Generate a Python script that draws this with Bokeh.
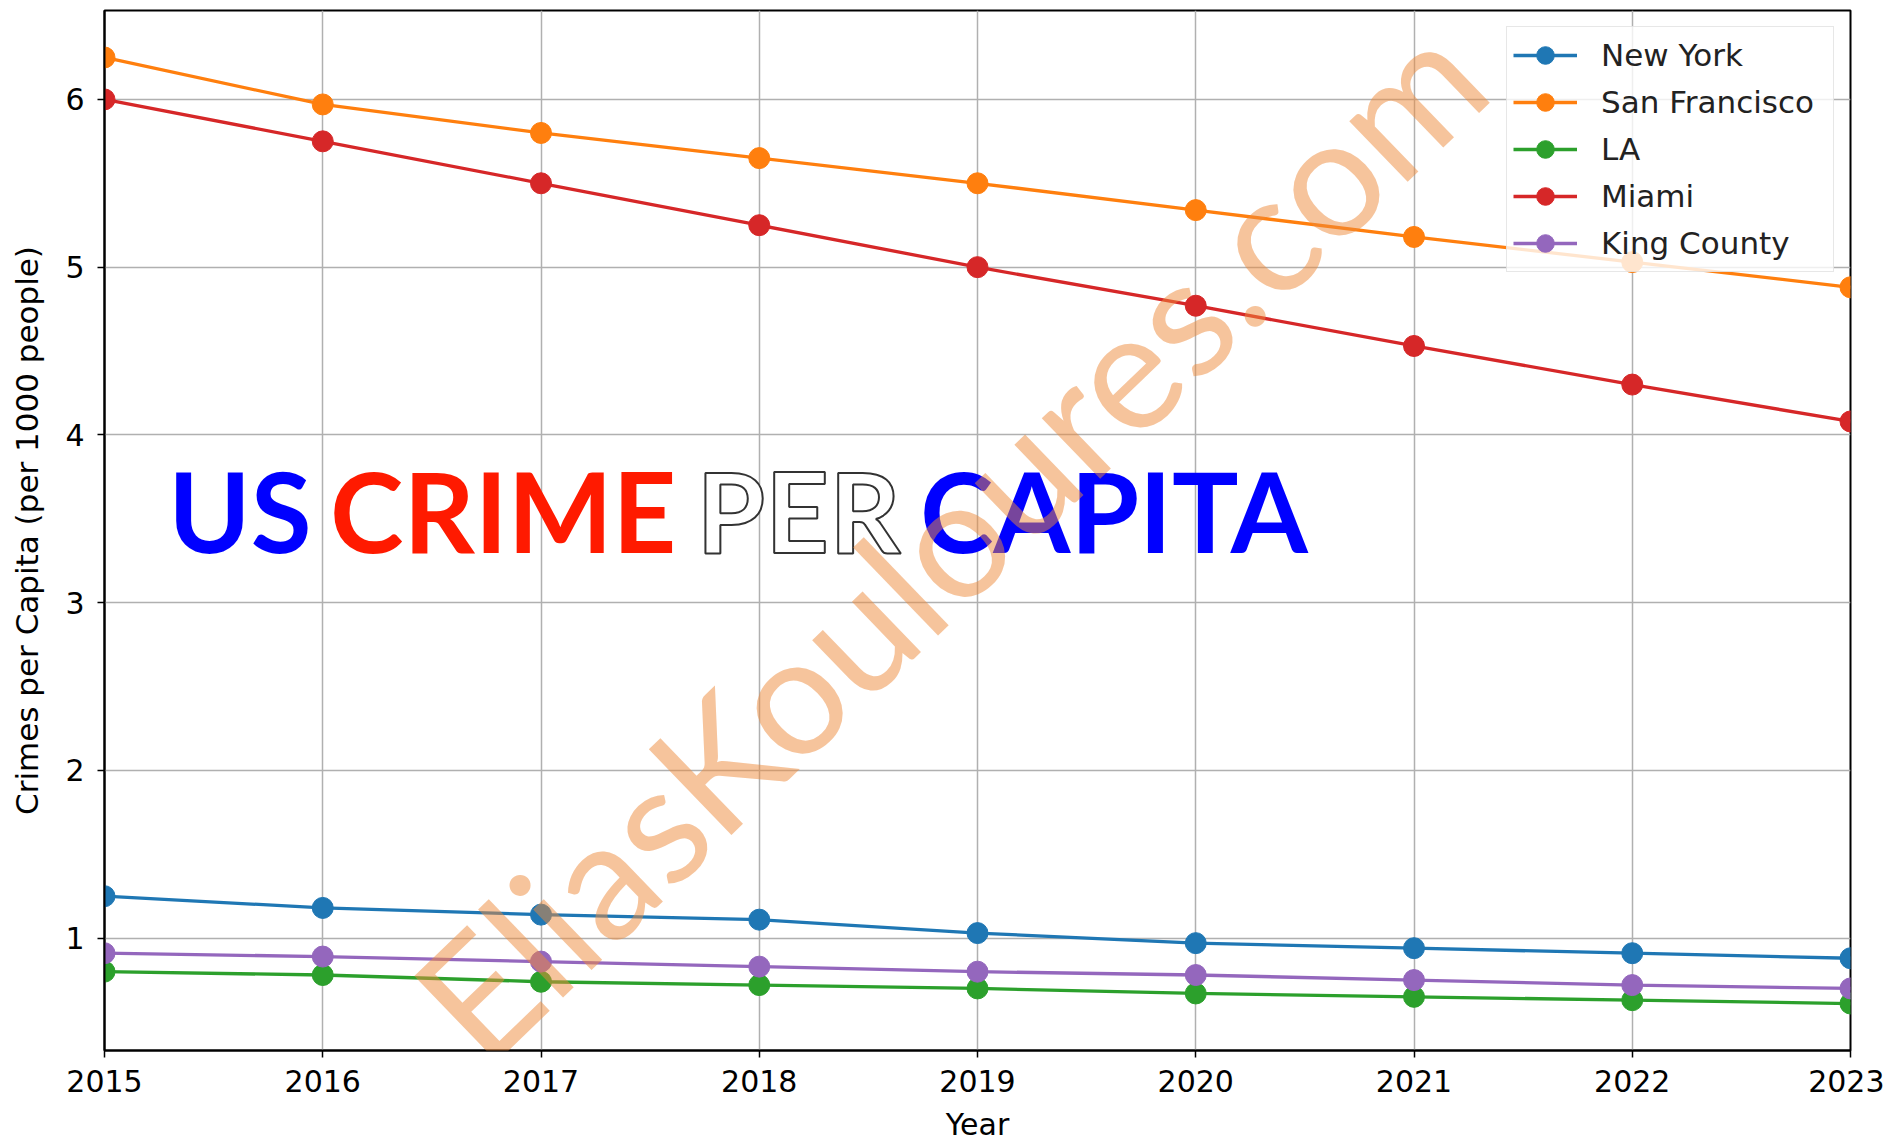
from bokeh.plotting import figure
from bokeh.models import Range1d, Label, FixedTicker
from bokeh.embed import file_html
from bokeh.resources import INLINE

years = [2015, 2016, 2017, 2018, 2019, 2020, 2021, 2022, 2023]
new_york = [1.25, 1.18, 1.14, 1.11, 1.03, 0.97, 0.94, 0.91, 0.88]
san_francisco = [6.25, 5.97, 5.80, 5.65, 5.50, 5.34, 5.18, 5.03, 4.88]
la = [0.80, 0.78, 0.74, 0.72, 0.70, 0.67, 0.65, 0.63, 0.61]
miami = [6.00, 5.75, 5.50, 5.25, 5.00, 4.77, 4.53, 4.30, 4.08]
king_county = [0.91, 0.89, 0.86, 0.83, 0.80, 0.78, 0.75, 0.72, 0.70]

series = [
    ("New York", new_york, "#1f77b4"),
    ("San Francisco", san_francisco, "#ff7f0e"),
    ("LA", la, "#2ca02c"),
    ("Miami", miami, "#d62728"),
    ("King County", king_county, "#9467bd"),
]

y_ticks = [1, 2, 3, 4, 5, 6]

p = figure(
    frame_width=1746, frame_height=1040,
    min_border_left=104, min_border_top=10, min_border_right=34, min_border_bottom=95,
    x_range=Range1d(2015, 2023), y_range=Range1d(0.33, 6.53),
    output_backend="svg", toolbar_location=None,
)
p.background_fill_color = "white"
p.border_fill_color = "white"
p.outline_line_color = "black"
p.outline_line_width = 2

for name, vals, col in series:
    p.line(years, vals, line_color=col, line_width=3.3, legend_label=name)
    p.scatter(years, vals, size=21, fill_color=col, line_color=col, legend_label=name)

p.xaxis.ticker = FixedTicker(ticks=years)
p.yaxis.ticker = FixedTicker(ticks=y_ticks)
for ax in (p.xaxis, p.yaxis):
    ax.axis_line_color = "black"
    ax.axis_line_width = 2
    ax.major_tick_line_color = "black"
    ax.major_tick_line_width = 1.5
    ax.major_tick_out = 7
    ax.major_tick_in = 0
    ax.minor_tick_line_color = None
    ax.major_label_text_font = "DejaVu Sans"
    ax.major_label_text_font_size = "30px"
    ax.major_label_text_color = "black"
    ax.axis_label_text_font = "DejaVu Sans"
    ax.axis_label_text_font_size = "30px"
    ax.axis_label_text_font_style = "normal"
    ax.axis_label_text_color = "black"
p.xaxis.axis_label = "Year"
p.yaxis.axis_label = "Crimes per Capita (per 1000 people)"
p.yaxis.axis_label_text_font_size = "31px"
p.xaxis.major_label_standoff = 12
p.yaxis.major_label_standoff = 13
p.xaxis.axis_label_standoff = 12
p.yaxis.axis_label_standoff = 17

p.xgrid.ticker = FixedTicker(ticks=years)
p.ygrid.ticker = FixedTicker(ticks=y_ticks)
for g in (p.xgrid, p.ygrid):
    g.grid_line_color = "#b0b0b0"
    g.grid_line_width = 1.5

# Big headline text
words = [
    ("US", 2015.292, "#0000ff", None),
    ("CRIME", 2016.033, "#ff1a00", None),
    ("PER", 2017.713, "white", "#333333"),
    ("CAPITA", 2018.736, "#0000ff", None),
]
for w, xpos, col, outline in words:
    kw = {}
    if outline:
        kw["text_outline_color"] = outline
    lab = Label(x=xpos, y=3.55, text=w, text_color=col, text_font="Lato",
                text_font_style="bold", text_font_size="111px",
                text_baseline="alphabetic", text_align="left", **kw)
    p.add_layout(lab)

# Watermark
wm = Label(x=2018.86, y=3.39, text="EliasKouloures.com", text_color="#ed8a3a",
           text_alpha=0.5, text_font="Lato", text_font_size="166px",
           angle=0.768, text_align="center", text_baseline="middle",
           level="overlay")
p.add_layout(wm)

p.legend.location = "top_right"
p.legend.margin = 16
p.legend.label_text_font = "DejaVu Sans"
p.legend.label_text_font_size = "31px"
p.legend.label_text_color = "#222222"
p.legend.glyph_width = 64
p.legend.glyph_height = 44
p.legend.spacing = 3
p.legend.label_standoff = 24
p.legend.padding = 6
p.legend.label_height = 44
p.legend.label_width = 226
p.legend.border_line_color = "#d0d0d0"
p.legend.border_line_width = 1.5
p.legend.background_fill_alpha = 0.8

open("out.html", "w").write(file_html(p, INLINE))
